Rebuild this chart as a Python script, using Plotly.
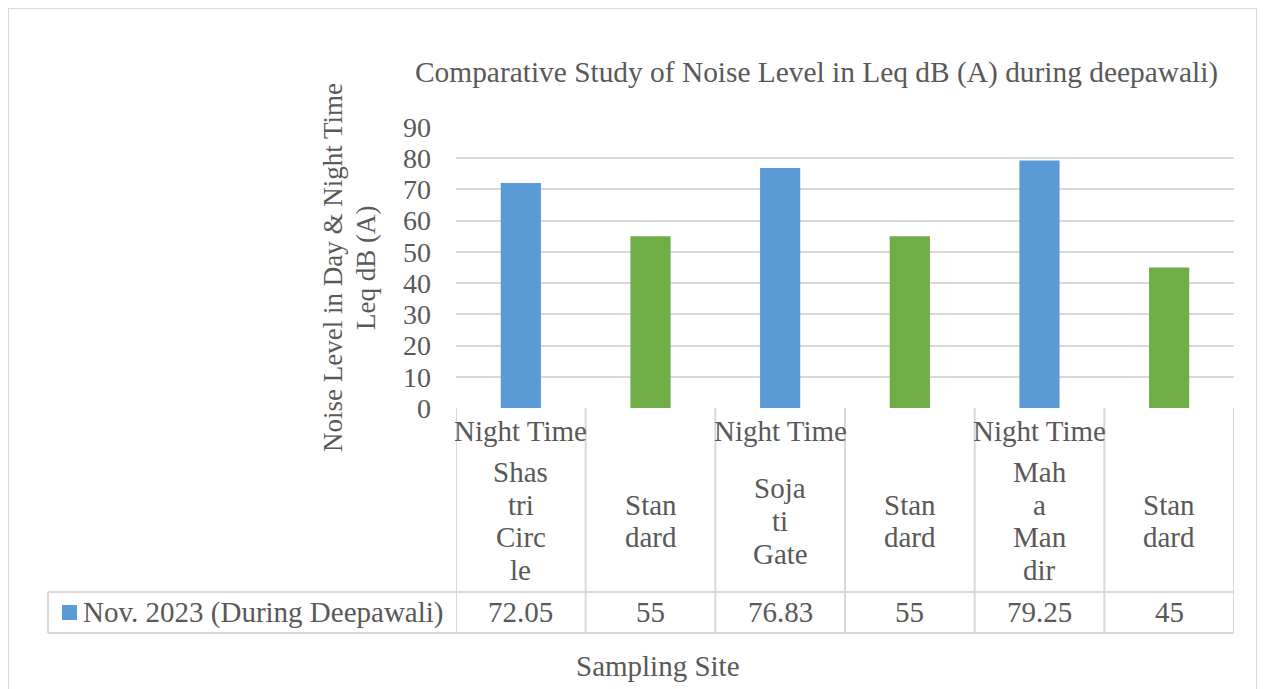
import plotly.graph_objects as go

# ---- data ----
site_labels = ["Shas<br>tri<br>Circ<br>le", "Stan<br>dard", "Soja<br>ti<br>Gate",
               "Stan<br>dard", "Mah<br>a<br>Man<br>dir", "Stan<br>dard"]
period_labels = ["Night Time", "", "Night Time", "", "Night Time", ""]
series_name = "Nov. 2023 (During Deepawali)"
values = [72.05, 55, 76.83, 55, 79.25, 45]
bar_colors = ["#5B9BD5", "#70AD47", "#5B9BD5", "#70AD47", "#5B9BD5", "#70AD47"]
y_ticks = [0, 10, 20, 30, 40, 50, 60, 70, 80, 90]
chart_title = "Comparative Study of Noise Level in Leq dB (A) during deepawali)"
y_title_lines = ["Noise Level in Day & Night Time", "Leq dB (A)"]
x_title = "Sampling Site"

OFF = 8          # page body margin
W, H = 1257, 681
FONT = "Liberation Serif"
TXT = "#595959"
GRID = "#D9D9D9"
FS = 29          # horizontal text size
FSV = 27         # rotated text size


def py(p):  # reference pixel y -> paper
    return 1 - (p - OFF) / H


def px(p):
    return (p - OFF) / W


def note(x, y, text, xref="paper", size=FS, **kw):
    d = dict(x=x, y=y, xref=xref, yref="paper", text=text, showarrow=False,
             xanchor="center", yanchor="middle",
             font=dict(family=FONT, size=size, color=TXT))
    d.update(kw)
    return d


x_pos = list(range(len(values)))

fig = go.Figure()
fig.add_trace(go.Bar(
    x=x_pos, y=values, name=series_name, width=0.31,
    marker=dict(color=bar_colors, line=dict(width=0)),
    showlegend=False,
))

shapes = []
annotations = []

# outer chart border
shapes.append(dict(type="rect", xref="paper", yref="paper",
                   x0=px(8), x1=px(1257), y0=py(720), y1=py(8),
                   line=dict(color=GRID, width=2), layer="below"))

# table lines
tab_top, hdr_bot, tab_bot = 408, 592, 633
leg_left = 48
n = len(values)
for i in range(n + 1):
    shapes.append(dict(type="line", xref="x", yref="paper",
                       x0=i - 0.5, x1=i - 0.5, y0=py(tab_top), y1=py(tab_bot),
                       line=dict(color=GRID, width=2)))
for yy in (hdr_bot, tab_bot):
    shapes.append(dict(type="line", xref="paper", yref="paper",
                       x0=px(leg_left), x1=px(1234), y0=py(yy), y1=py(yy),
                       line=dict(color=GRID, width=2)))
shapes.append(dict(type="line", xref="paper", yref="paper",
                   x0=px(leg_left), x1=px(leg_left), y0=py(hdr_bot), y1=py(tab_bot),
                   line=dict(color=GRID, width=2)))
# legend key square
shapes.append(dict(type="rect", xref="paper", yref="paper",
                   x0=px(62), x1=px(77), y0=py(620), y1=py(605),
                   fillcolor=bar_colors[0], line=dict(width=0)))

LINE = 32.7
for i in range(n):
    if period_labels[i]:
        annotations.append(note(i, py(431), period_labels[i], xref="x"))
    lines = site_labels[i].split("<br>")
    k = len(lines)
    for j, ln in enumerate(lines):
        yy = 521 + (j - (k - 1) / 2) * LINE
        annotations.append(note(i, py(yy), ln, xref="x"))
    annotations.append(note(i, py(612), f"{values[i]:g}", xref="x"))

annotations.append(note(px(81), py(612), series_name, xanchor="left"))

# titles
annotations.append(note(px(816), py(73), chart_title, size=29.4))
for j, ln in enumerate(y_title_lines):
    annotations.append(note(px(333 + j * 33), py(268), ln, size=FSV, textangle=-90))
annotations.append(note(px(658), py(666), x_title))

fig.update_layout(
    width=W, height=H,
    margin=dict(l=0, r=0, t=0, b=0, autoexpand=False),
    paper_bgcolor="white", plot_bgcolor="white",
    xaxis=dict(domain=[px(456), px(1234)], range=[-0.5, n - 0.5],
               showticklabels=False, showgrid=False, zeroline=False,
               showline=False, ticks=""),
    yaxis=dict(domain=[py(408), py(127)], range=[0, 90], tickvals=y_ticks,
               showgrid=True, gridcolor=GRID, gridwidth=2, zeroline=False,
               showline=False, ticks="", ticklabelstandoff=24,
               tickfont=dict(family=FONT, size=28, color=TXT)),
    shapes=shapes, annotations=annotations,
)

fig.write_html("out.html")
